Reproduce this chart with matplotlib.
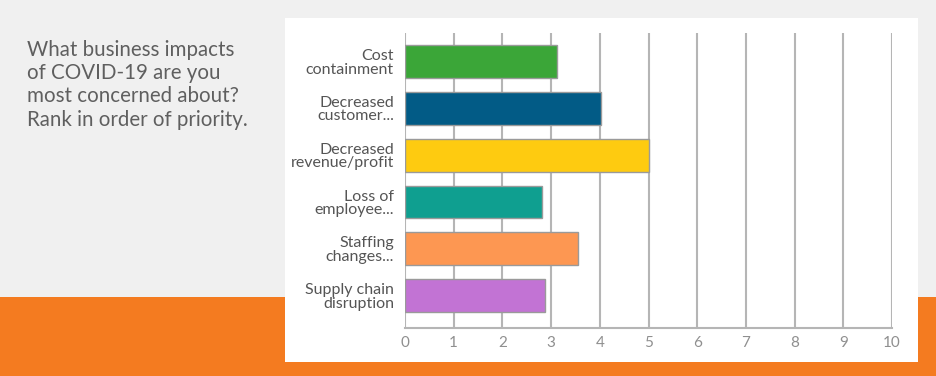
import numpy as np
import matplotlib.pyplot as plt
from matplotlib.patches import Rectangle

categories = ['Cost\ncontainment', 'Decreased\ncustomer...', 'Decreased\nrevenue/profit',
              'Loss of\nemployee...', 'Staffing\nchanges...', 'Supply chain\ndisruption']
values = [3.12, 4.02, 5.0, 2.82, 3.55, 2.87]
colors = ['#3ba638', '#025b86', '#fecb10', '#0f9f90', '#fd9752', '#c273d4']
xticks = list(range(0, 11))

title = 'What business impacts\nof COVID-19 are you\nmost concerned about?\nRank in order of priority.'

W, H = 936, 376
fig = plt.figure(figsize=(W / 100, H / 100), dpi=100)
fig.patch.set_facecolor('#f0f0f0')

# orange band at the bottom and white panel behind the chart
fig.patches.append(Rectangle((0, 0), 1, (H - 297) / H, transform=fig.transFigure,
                             facecolor='#f47b20', edgecolor='none', zorder=0))
fig.patches.append(Rectangle((285 / W, 1 - 362 / H), (918 - 285) / W, (362 - 18) / H,
                             transform=fig.transFigure, facecolor='white',
                             edgecolor='none', zorder=1))

fig.text(27 / W, 1 - 40 / H, title, ha='left', va='top', fontsize=14.8,
         color='#5f5f5f', family='Lato', linespacing=1.2)

ax = fig.add_axes([405 / W, 1 - 328 / H, (892 - 405) / W, (328 - 33) / H])
ax.set_zorder(5)
ax.set_facecolor('none')

y = np.arange(len(categories))
ax.barh(y, values, height=0.7, color=colors, edgecolor='#9a9a9a', linewidth=1, zorder=3)

ax.set_xlim(0, 10)
ax.set_ylim(5.69, -0.61)
ax.set_xticks(xticks)
ax.set_yticks(y)
ax.set_yticklabels(categories, fontsize=11.5, color='#555555', family='Lato', linespacing=0.95)
ax.tick_params(axis='x', labelsize=11, labelcolor='#8f8f8f', length=0, pad=6)
ax.tick_params(axis='y', length=0, pad=8)
for lab in ax.get_xticklabels():
    lab.set_family('Lato')

ax.grid(axis='x', color='#b5b5b5', linewidth=1.5, zorder=0)
for s in ['top', 'right', 'left']:
    ax.spines[s].set_visible(False)
ax.spines['bottom'].set_color('#b5b5b5')
ax.spines['bottom'].set_linewidth(1.5)

fig.savefig('out.png', dpi=100, facecolor=fig.get_facecolor())
